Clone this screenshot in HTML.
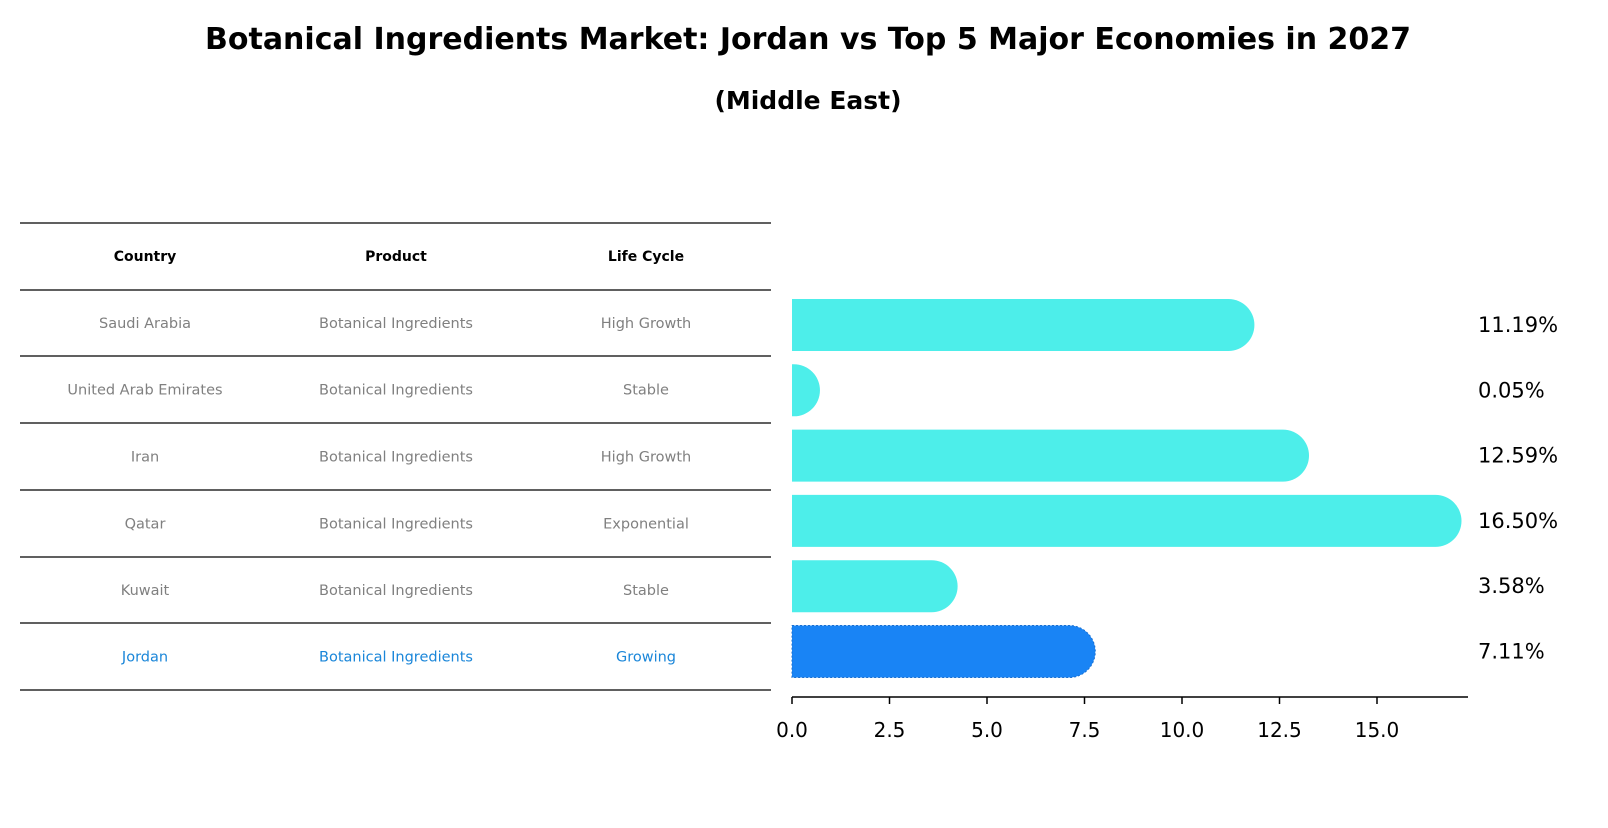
<!DOCTYPE html>
<html><head><meta charset="utf-8"><style>
body{margin:0;background:#fff;width:1608px;height:823px;overflow:hidden}
svg text{font-family:"DejaVu Sans","Liberation Sans",sans-serif}
</style></head><body>
<svg id="chart" width="1608" height="823">
<text x="808" y="49" text-anchor="middle" font-size="30" font-weight="bold">Botanical Ingredients Market: Jordan vs Top 5 Major Economies in 2027</text>
<text x="808" y="109" text-anchor="middle" font-size="25" font-weight="bold">(Middle East)</text>
<g id="table"></g>
<g id="bars"></g>
<g id="axis"></g>
</svg>
<script>
const countries=["Saudi Arabia","United Arab Emirates","Iran","Qatar","Kuwait","Jordan"];
const products=["Botanical Ingredients","Botanical Ingredients","Botanical Ingredients","Botanical Ingredients","Botanical Ingredients","Botanical Ingredients"];
const lifecycles=["High Growth","Stable","High Growth","Exponential","Stable","Growing"];
const values=[11.19,0.05,12.59,16.50,3.58,7.11];
const ticks=[0,2.5,5,7.5,10,12.5,15];
const NS="http://www.w3.org/2000/svg";
function mk(tag,attrs,parent,text){const e=document.createElementNS(NS,tag);for(const k in attrs)e.setAttribute(k,attrs[k]);if(text!==undefined)e.textContent=text;parent.appendChild(e);return e;}
const x0=792,scale=39;
const xs=v=>x0+v*scale;
const ys=i=>325+i*65.3;
const tbl=document.getElementById('table');
const lineYs=[223,290,356,423,490,557,623,690];
lineYs.forEach(y=>{const l=mk('line',{x1:20,x2:771,y1:y,y2:y,stroke:'#000','stroke-width':1.2},tbl);

});
const colX=[145,396,646];
["Country","Product","Life Cycle"].forEach((h,j)=>{const t=mk('text',{x:colX[j],y:261,'text-anchor':'middle','font-size':14,'font-weight':'bold'},tbl,h);

});
countries.forEach((c,i)=>{const y=(lineYs[i+1]+lineYs[i+2])/2+5;const col=c==="Jordan"?'#1a86d9':'#808080';
[c,products[i],lifecycles[i]].forEach((s,j)=>{const t=mk('text',{x:colX[j],y:y,'text-anchor':'middle','font-size':14.5,fill:col},tbl,s);

});});
const bars=document.getElementById('bars');
const h=52,r=26;
values.forEach((v,i)=>{const cy=ys(i);const xe=xs(v);const isJ=countries[i]==="Jordan";const col=isJ?'#1984f5':'#4deeea';
let d;
if(xe-x0<1){d=`M${x0},${cy-h/2}h1.5v${h}h-1.5z`;}
else d=`M${x0},${cy-h/2}H${xe}A${r},${r} 0 0 1 ${xe},${cy+h/2}H${x0}Z`;
const p=mk('path',{d:d,fill:col},bars);
if(isJ){p.setAttribute('stroke','#1a6fd0');p.setAttribute('stroke-dasharray','2 2');}


const t=mk('text',{x:1478,y:cy+7,'font-size':21},bars,v.toFixed(2)+'%');

});
const ax=document.getElementById('axis');
const al=mk('line',{x1:x0,x2:1468,y1:697,y2:697,stroke:'#000','stroke-width':1.5},ax);


ticks.forEach(v=>{const tm=mk('line',{x1:xs(v),x2:xs(v),y1:697,y2:704,stroke:'#000','stroke-width':1.5},ax);


const t=mk('text',{x:xs(v),y:737,'text-anchor':'middle','font-size':20},ax,v.toFixed(1));

});
</script>
</body></html>
